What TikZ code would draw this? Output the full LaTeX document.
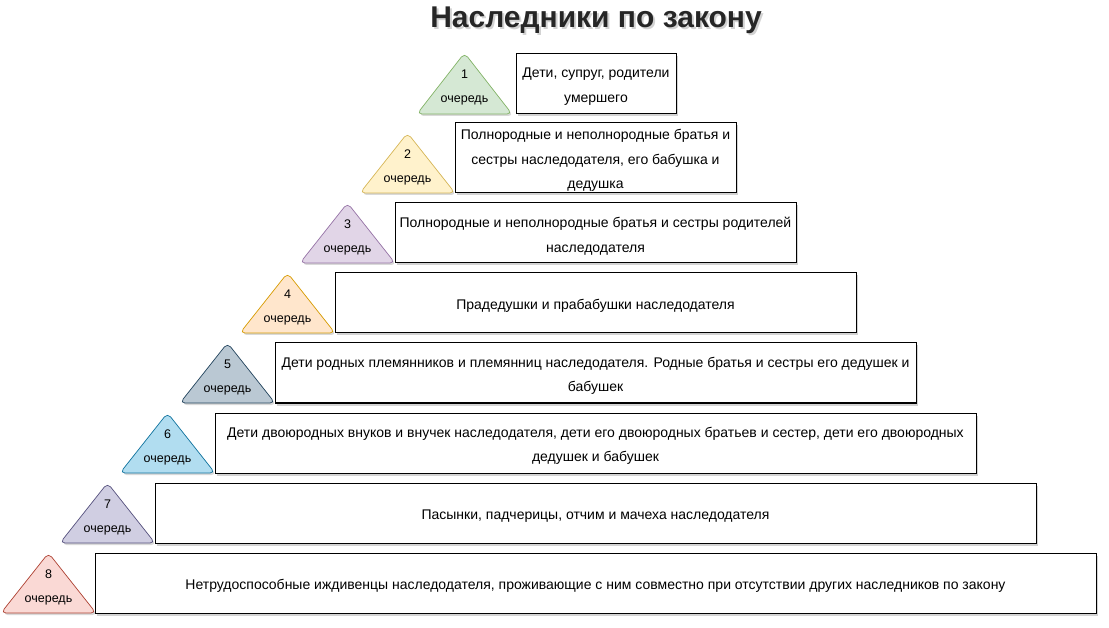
\documentclass[tikz,border=0pt]{standalone}
\usepackage{fontspec}
\setmainfont{Liberation Sans}
\usetikzlibrary{shadows}
\definecolor{f1}{HTML}{D5E8D4}\definecolor{d1}{HTML}{82B366}
\definecolor{f2}{HTML}{FFF2CC}\definecolor{d2}{HTML}{D6B656}
\definecolor{f3}{HTML}{E1D5E7}\definecolor{d3}{HTML}{9673A6}
\definecolor{f4}{HTML}{FFE6CC}\definecolor{d4}{HTML}{D79B00}
\definecolor{f5}{HTML}{BAC8D3}\definecolor{d5}{HTML}{23445D}
\definecolor{f6}{HTML}{B1DDF0}\definecolor{d6}{HTML}{10739E}
\definecolor{f7}{HTML}{D0CEE2}\definecolor{d7}{HTML}{56517E}
\definecolor{f8}{HTML}{FAD9D5}\definecolor{d8}{HTML}{AE4132}
\newcommand\mytri[5]{%
  \filldraw[tri, fill=f#1, draw=d#1] (#2,#4) -- ({#2+47.5},#3) -- ({#2+95},#4) -- cycle;
  \node[tlabel] (t#1) at ({#2+47.5},{#3+34.5}) {#5\\очередь};
}
\newcommand\mytitle{Наследники по закону}
\begin{document}
\begin{tikzpicture}[x=1pt,y=-1pt,
  tri/.style={line width=0.7pt, rounded corners=5pt,
    drop shadow={shadow xshift=1.5pt,shadow yshift=-2pt,opacity=0.3,fill=gray}},
  tlabel/.style={align=center, inner sep=0pt, font=\fontsize{12.5}{24}\selectfont},
  box/.style={draw=black, fill=white, line width=1pt, inner sep=0pt,
    drop shadow={shadow xshift=2pt,shadow yshift=-2.5pt,opacity=0.35,fill=gray}},
  boxtext/.style={align=center, inner sep=0pt, font=\fontsize{14}{24.5}\selectfont}]
\useasboundingbox (0,0) rectangle (1109,628);
\node[font=\bfseries\fontsize{30}{31}\selectfont, text=black!85, inner sep=0pt] (title) at (596,21.5)
  {\makebox[0pt][l]{\hspace{2pt}\raisebox{-2.5pt}{\color{gray!35}\mytitle}}\mytitle};
% triangles
\mytri{1}{417}{53}{114}{1}
\mytri{2}{360}{133}{193}{2}
\mytri{3}{300}{203}{263}{3}
\mytri{4}{240}{273}{333}{4}
\mytri{5}{180}{343}{403}{5}
\mytri{6}{120}{413}{473}{6}
\mytri{7}{60}{483}{543}{7}
\mytri{8}{1}{553}{613}{8}
% boxes
\node[box, minimum width=160pt, minimum height=60pt] (b1) at (596,83.5) {};
\node[box, minimum width=281pt, minimum height=70pt] (b2) at (595.5,158) {};
\node[box, minimum width=401pt, minimum height=60pt] (b3) at (595.5,233) {};
\node[box, minimum width=521pt, minimum height=60pt] (b4) at (595.5,303) {};
\node[box, minimum width=641pt, minimum height=60pt] (b5) at (595.5,373) {};
\node[box, minimum width=761pt, minimum height=60pt] (b6) at (595.5,443) {};
\node[box, minimum width=881pt, minimum height=60pt] (b7) at (595.5,513) {};
\node[box, minimum width=1001pt, minimum height=60pt] (b8) at (595.5,583) {};
% texts
\node[boxtext] (x1) at ([yshift=-3pt]b1.center) {Дети, супруг, родители\\умершего};
\node[boxtext] (x2) at ([yshift=-2.5pt]b2.center) {Полнородные и неполнородные братья и\\сестры наследодателя, его бабушка и\\дедушка};
\node[boxtext] (x3) at ([yshift=-3pt]b3.center) {Полнородные и неполнородные братья и сестры родителей\\наследодателя};
\node[boxtext] (x4) at ([yshift=-3pt]b4.center) {Прадедушки и прабабушки наследодателя};
\node[boxtext] (x5) at ([yshift=-3pt]b5.center) {Дети родных племянников и племянниц наследодателя. Родные братья и сестры его дедушек и\\бабушек};
\node[boxtext] (x6) at ([yshift=-3pt]b6.center) {Дети двоюродных внуков и внучек наследодателя, дети его двоюродных братьев и сестер, дети его двоюродных\\дедушек и бабушек};
\node[boxtext] (x7) at ([yshift=-3pt]b7.center) {Пасынки, падчерицы, отчим и мачеха наследодателя};
\node[boxtext] (x8) at ([yshift=-3pt]b8.center) {Нетрудоспособные иждивенцы наследодателя, проживающие с ним совместно при отсутствии других наследников по закону};
\end{tikzpicture}
\end{document}
